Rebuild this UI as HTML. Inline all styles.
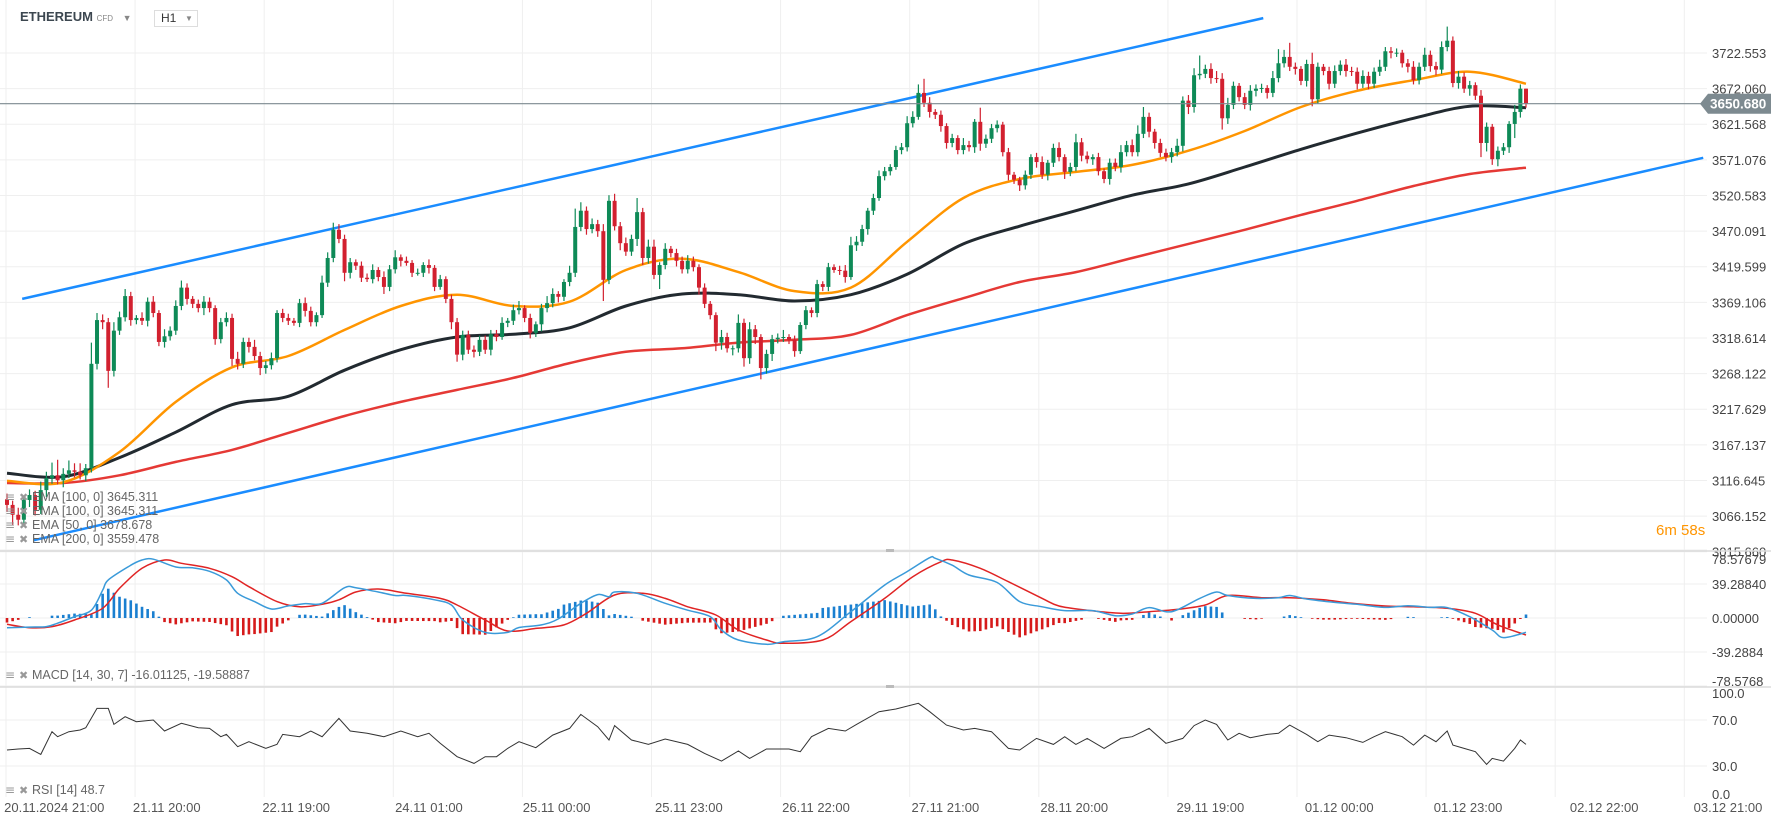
<!DOCTYPE html>
<html><head><meta charset="utf-8"><title>ETHEREUM H1</title>
<style>
html,body{margin:0;padding:0;background:#fff;width:1771px;height:825px;overflow:hidden;font-family:"Liberation Sans",sans-serif;}
#chart{position:absolute;left:0;top:0;}
.hdr{position:absolute;font-family:"Liberation Sans",sans-serif;}
</style></head>
<body>
<svg id="chart" width="1771" height="825" xmlns="http://www.w3.org/2000/svg">
  <defs><clipPath id="mainClip"><rect x="0" y="0" width="1705" height="551"/></clipPath></defs>
  <g id="grid"></g>
  <g id="main" clip-path="url(#mainClip)"></g>
  <g id="macd"></g>
  <g id="rsi"></g>
  <g id="axes"></g>
  <g id="legend"></g>
</svg>
<div class="hdr" style="left:20px;top:9px;font-size:13px;font-weight:bold;color:#3c4750;">ETHEREUM <span style="font-size:8px;font-weight:normal;color:#888;">CFD</span> <span style="font-size:9px;color:#888;margin-left:6px;">&#9660;</span></div>
<div class="hdr" style="left:154px;top:10px;width:42px;height:15px;border:1px solid #ddd;font-size:12px;color:#333;line-height:15px;"><span style="margin-left:6px;">H1</span><span style="font-size:8px;color:#888;position:absolute;left:30px;top:0;">&#9660;</span></div>
<div class="hdr" style="left:1656px;top:522px;font-size:15px;color:#ff9500;">6m 58s</div>

<script>
// ---- price data (H1 candles) ----
const closes = [
3082,3068,3061,3089,3096,3075,3103,3120,3124,3117,3126,3131,3129,3124,3134,
3282,3344,3341,3272,3329,3348,3378,3344,3347,3343,3370,3354,3313,3321,3329,3364,3390,3374,3367,3361,3370,3361,3317,3341,3347,3289,3282,3313,3306,3293,3276,3280,3290,
3354,3347,3343,3340,3368,3357,3341,3351,3397,3432,3472,3459,3411,
3426,3421,3404,3402,3415,3405,3391,3416,3433,3428,3425,3411,3411,3422,3418,3391,3402,3374,3341,3295,3323,3302,3299,3316,3302,3324,3320,3340,3343,3358,3361,3347,3326,3338,3361,3368,3381,3377,3398,3411,3476,3499,3473,3480,3470,3401,3513,3477,3453,3441,3459,3497,3432,3448,3408,3422,3445,3439,3428,3416,3428,3419,3390,
3367,3351,3312,3320,3304,3304,3340,3290,3331,3320,3276,3296,3317,3319,3320,3316,3300,3337,3358,3354,3395,3391,
3419,3415,3414,3405,3450,3455,3473,3499,3517,3548,3555,3561,3585,3589,3623,3632,3666,3652,3639,3635,3619,3595,3602,3585,3592,3589,3625,3594,3601,3616,3621,3582,3550,3543,3535,3550,
3575,3568,3550,3567,3588,3575,3554,3561,3596,3577,3572,3575,3555,3544,3567,3561,3582,3592,3582,3608,3632,3611,3595,3581,3575,3582,3591,3655,3646,3691,3693,3700,3687,3686,3630,3649,3676,3660,3649,3669,3672,3673,3666,3687,3708,3717,
3703,3700,3683,3707,3657,3703,3697,3679,3697,3706,3697,3696,3679,3690,3679,3696,3703,3725,3723,3723,3708,3703,3684,3703,3720,3704,3699,3731,3740,3680,3689,3672,3677,3662,3595,3618,3572,3584,3589,3622,3639,3672,3651];
const firstOpen = 3090;
const upperWicks = [
8,6,10,5,8,6,12,9,18,22,8,14,10,12,6,
30,10,8,6,12,8,10,6,4,8,6,8,4,10,6,8,10,6,4,6,8,6,4,6,8,6,10,6,6,10,6,6,8,
4,6,6,4,6,8,6,4,10,8,10,8,6,
6,4,6,6,8,4,8,6,10,4,6,4,6,4,8,4,6,4,6,6,6,6,6,6,6,6,6,8,4,8,10,4,6,4,6,10,8,4,4,10,26,12,6,8,6,10,8,10,6,8,6,20,6,10,10,4,8,4,6,6,8,6,4,
6,4,4,10,6,4,12,6,10,6,4,6,6,6,10,4,6,4,6,4,6,4,
6,4,6,8,12,8,6,4,6,8,6,4,6,6,10,8,12,20,8,4,6,4,6,4,10,6,4,20,6,6,6,4,6,4,4,6,
4,6,8,4,6,8,4,6,12,6,6,4,6,4,6,6,10,6,8,12,14,6,4,6,6,6,10,6,8,10,26,6,8,10,8,10,6,4,6,8,6,6,4,10,20,10,
20,6,4,6,16,6,4,6,8,6,8,6,6,8,6,6,10,6,6,6,4,6,8,6,10,6,6,8,20,6,8,6,6,4,8,6,4,6,6,4,10,6,0];
const lowerWicks = [
10,14,8,6,10,8,6,10,8,6,10,6,8,6,8,
6,8,10,24,8,6,6,8,6,6,8,6,6,8,6,6,6,8,6,6,10,6,8,6,6,10,8,6,8,6,10,8,6,
6,6,6,4,6,8,6,6,4,6,6,6,12,
8,6,6,4,6,6,10,6,6,8,4,6,4,6,8,6,4,6,10,10,8,6,8,6,6,8,6,4,6,6,6,6,8,6,10,6,6,8,6,6,6,6,8,6,8,30,6,6,10,6,6,10,10,8,6,20,6,6,8,6,6,6,10,
6,6,12,10,6,10,6,12,8,10,16,8,10,6,6,6,8,4,6,6,6,6,
6,4,6,8,4,8,6,8,6,4,6,6,4,6,6,6,4,6,8,6,8,8,6,6,6,6,8,10,6,6,6,6,8,6,8,6,
6,8,6,8,6,6,10,6,6,8,6,8,6,6,8,6,8,6,6,6,6,8,8,6,6,8,6,8,10,8,6,6,8,6,16,8,6,6,6,8,8,6,8,6,6,6,
6,8,6,8,10,6,6,8,6,6,8,6,8,6,8,6,6,6,8,6,6,8,6,6,6,8,8,6,6,6,8,6,10,6,20,12,8,10,6,8,20,8,6];
// EMAs sampled every 10 candles
const emaIdx = [0,10,20,30,40,50,60,70,80,90,100,110,120,130,140,150,160,170,180,190,200,210,220,230,240,250,260,270];
const ema50 = [3116,3114,3157,3228,3277,3293,3330,3364,3380,3364,3370,3415,3431,3412,3385,3390,3455,3517,3544,3554,3564,3584,3612,3646,3669,3684,3696,3679];
const ema100 = [3127,3122,3149,3185,3224,3236,3273,3302,3320,3324,3333,3364,3381,3380,3371,3380,3409,3452,3477,3499,3521,3537,3561,3586,3609,3630,3647,3645];
const ema200 = [3113,3113,3124,3143,3160,3184,3208,3228,3245,3262,3283,3299,3304,3312,3316,3323,3351,3375,3398,3412,3432,3452,3472,3493,3513,3534,3551,3560];
// channel trendlines [idx, price]
const upperChannel = [[2.7,3374],[223.3,3772]];
const lowerChannel = [[4.8,3032],[301.5,3574]];
const lastPrice = 3650.680;
// MACD
const macdIdx = [0,4,7,9,12,15,17,18,22,24,26,30,33,36,39,41,44,47,50,53,56,60,62,66,69,71,76,79,81,85,89,91,95,98,102,105,107,108,112,117,121,125,127,130,135,138,
144,150,156,160,164,165,168,171,176,180,184,188,193,197,200,203,207,212,215,217,222,226,228,231,236,240,245,249,253,256,260,264,266,270];
const macdVal = [-11.2,-10.5,-10,-6,1.5,9,32,44,61,67,68,59,58,54,44,28.5,19,10.4,14,16.6,17,35,35,30,26,26,21,15,-2.3,-16.6,-16.6,-11,-8,-1,17,27,24.6,30,28.5,17,9,1.5,-13.9,-25.4,-30.4,-27.4,
-21.6,7.3,38,53.6,69.7,69,61,49.7,41,19,13,8.5,8.5,2.7,4.6,12,7.3,22.7,30,26,22.7,23.5,26,22,18,15.8,12.3,14.2,12.3,12,1.5,-13.9,-22.7,-16.6];
const sigIdx = [0,4,8,12,17,20,24,28,31,36,40,43,48,52,56,59,62,66,71,77,80,85,89,94,99,103,108,113,117,121,126,130,135,138,
145,150,156,161,166,168,173,178,184,187,192,198,203,208,213,217,223,228,234,239,245,250,256,261,265,270];
const sigVal = [-7.3,-11.2,-10,-2.3,11.2,34.3,57.4,67,63.2,57.4,47.8,36.2,19,13,15.8,21,30,33.5,28.5,22.7,15,-2.3,-15,-12,-8,5.4,26.6,28.5,22.7,13,3.5,-13.9,-25.4,-29.3,
-25.4,-4.2,22.7,47.8,65,67,57.4,42,22.7,13.9,9,5.4,7.3,10,15,26,23.5,23.5,21,17,13.9,13,11.2,5.4,-8,-19.6];
// RSI
const rsiIdx = [0,2,4,6,8,9,11,13,14,16,18,19,21,23,26,28,31,34,36,38,39,41,43,46,48,49,52,54,56,59,61,64,67,70,73,75,77,80,83,85,87,89,91,94,97,100,102,105,107,108,111,114,117,121,124,127,130,132,135,139,141,143,146,149,151,155,158,162,164,167,170,172,175,178,180,183,186,188,190,192,195,198,200,203,206,209,211,213,215,217,219,221,224,226,228,231,233,235,238,241,243,245,248,250,252,254,256,257,259,261,263,264,266,268,269,270];
const rsiVal = [43.9,44.8,45.3,40.1,59.8,55.5,59.8,61.3,63.3,80.1,80.1,66.2,72.9,68.5,70,60.4,67.1,63.3,62.7,55.5,57.5,46.8,51.1,45.3,48.8,57.5,55.5,60.4,55.5,71.4,60.4,58.4,55.5,60.4,55.5,58.4,49.7,38.1,32.3,38.1,38.1,45.3,51.1,45.9,56.9,62.7,74.9,64.2,52.6,65.1,52.6,48.8,53.5,48.8,41,34.3,43,36.6,44.8,44.8,42.4,55.5,62.7,60.4,66.2,77.2,79.6,84.5,77.2,65.6,61.3,62.7,59.8,45.3,43.9,54,48.8,55.5,48.8,54,45.3,54,55.5,62.7,49.7,54,65.1,70,66.2,52.6,58.4,54.6,57.5,58.4,65.6,57.5,51.1,56.9,54.6,50.5,55.5,59.8,55.5,48.2,56.9,51.1,60.4,48.2,45.3,42.4,31.4,36.6,34.3,45.3,52.6,48.8];
// ticks
const priceTicks = ["3722.553","3672.060","3621.568","3571.076","3520.583","3470.091","3419.599","3369.106","3318.614","3268.122","3217.629","3167.137","3116.645","3066.152","3015.660"];
const macdTicks = [["78.57679",78.57679],["39.28840",39.2884],["0.00000",0],["-39.2884",-39.2884],["-78.5768",-78.5768]];
const rsiTicks = [["100.0",100],["70.0",70],["30.0",30],["0.0",0]];
const timeLabels = ["20.11.2024  21:00","21.11  20:00","22.11  19:00","24.11  01:00","25.11  00:00","25.11  23:00","26.11  22:00","27.11  21:00","28.11  20:00","29.11  19:00","01.12  00:00","01.12  23:00","02.12  22:00","03.12  21:00"];
const timeLabelIdx = [8.4,28.4,51.4,75,97.7,121.2,143.8,166.8,189.7,213.9,236.8,259.7,283.9,305.9];
const ema50Label = "EMA [50, 0] 3678.678", ema100Label = "EMA [100, 0] 3645.311", ema200Label = "EMA [200, 0] 3559.478";

// ---- scales ----
const NS="http://www.w3.org/2000/svg";
const N = closes.length;
const X0 = 7, X1 = 1526;
const DX = (X1 - X0) / (N - 1);
function xS(i){ return X0 + i*DX; }
function yP(p){ return 53 + (3722.553 - p)*0.7055; }
function yM(v){ return 618 - v*0.865; }
function yR(v){ return 766 - (v - 30)*1.15; }
function mk(tag, attrs, parent){ const e=document.createElementNS(NS,tag); for(const k in attrs) e.setAttribute(k,attrs[k]); parent.appendChild(e); return e; }
function interp(idx, val, i){
  if(i<=idx[0]) return val[0];
  for(let k=1;k<idx.length;k++){ if(i<=idx[k]){ const t=(i-idx[k-1])/(idx[k]-idx[k-1]); return val[k-1]+t*(val[k]-val[k-1]); } }
  return val[val.length-1];
}
function smoothPath(pts){
  let d="M"+pts[0][0].toFixed(1)+","+pts[0][1].toFixed(1);
  for(let i=0;i<pts.length-1;i++){
    const p0=pts[Math.max(0,i-1)],p1=pts[i],p2=pts[i+1],p3=pts[Math.min(pts.length-1,i+2)];
    const c1x=p1[0]+(p2[0]-p0[0])/6,c1y=p1[1]+(p2[1]-p0[1])/6,c2x=p2[0]-(p3[0]-p1[0])/6,c2y=p2[1]-(p3[1]-p1[1])/6;
    d+=" C"+c1x.toFixed(1)+","+c1y.toFixed(1)+" "+c2x.toFixed(1)+","+c2y.toFixed(1)+" "+p2[0].toFixed(1)+","+p2[1].toFixed(1);
  }
  return d;
}

const grid=document.getElementById('grid'), main=document.getElementById('main'), macdG=document.getElementById('macd'), rsiG=document.getElementById('rsi'), axes=document.getElementById('axes'), legend=document.getElementById('legend');

// ---- grid ----
for(let k=0;k<14;k++){
  const gx=6+k*129.1;
  const l=mk('line',{x1:gx,y1:0,x2:gx,y2:797,stroke:'#efefef','stroke-width':1},grid);
  
  
}
priceTicks.forEach(t=>{
  const y=yP(parseFloat(t));
  const l=mk('line',{x1:0,y1:y,x2:1707,y2:y,stroke:'#efefef','stroke-width':1},grid);
  
  
  const tx=mk('text',{x:1712,y:y+5,'font-size':13,fill:'#444','font-family':'Liberation Sans, sans-serif'},axes);
  tx.textContent=t;
  
  
});
macdTicks.forEach(t=>{
  const y=yM(t[1]);
  const l=mk('line',{x1:0,y1:y,x2:1707,y2:y,stroke:'#efefef','stroke-width':1},grid);
  
  
  let ty=y+5; if(ty<564) ty=564; if(ty>686) ty=686;
  const tx=mk('text',{x:1712,y:ty,'font-size':13,fill:'#444','font-family':'Liberation Sans, sans-serif'},axes);
  tx.textContent=t[0];
  
  
});
rsiTicks.forEach(t=>{
  const y=yR(t[1]);
  if(t[1]>0&&t[1]<100){ const l=mk('line',{x1:0,y1:y,x2:1707,y2:y,stroke:'#efefef','stroke-width':1},grid);
    
     }
  let ty=y+5; if(ty<698) ty=698; if(ty>799) ty=799;
  const tx=mk('text',{x:1712,y:ty,'font-size':13,fill:'#444','font-family':'Liberation Sans, sans-serif'},axes);
  tx.textContent=t[0];
  
  
});
// pane separators
[551,687].forEach(y=>{
  const l=mk('line',{x1:0,y1:y,x2:1771,y2:y,stroke:'#dcdcdc','stroke-width':1.5},axes);
  
  
  const h=mk('rect',{x:886,y:y-2,width:8,height:3,fill:'#bbb'},axes);
  
  
});
timeLabels.forEach((t,k)=>{
  const tx=mk('text',{x:xS(timeLabelIdx[k]),y:812,'font-size':13,fill:'#555','text-anchor':'middle','font-family':'Liberation Sans, sans-serif','xml:space':'preserve'},axes);
  tx.textContent=t;
  
  
});

// ---- EMA lines ----
function emaLine(vals,color,w,name){
  const pts=emaIdx.map((i,k)=>[xS(i),yP(vals[k])]);
  const p=mk('path',{d:smoothPath(pts),fill:'none',stroke:color,'stroke-width':w,'stroke-linejoin':'round'},main);
  
  
}
emaLine(ema200,'#e53935',2.5,'ema-200-line');
emaLine(ema100,'#222a30',3,'ema-100-line');
emaLine(ema50,'#ff9500',2.5,'ema-50-line');

// ---- channel ----
[upperChannel,lowerChannel].forEach((c,k)=>{
  const l=mk('line',{x1:xS(c[0][0]),y1:yP(c[0][1]),x2:xS(c[1][0]),y2:yP(c[1][1]),stroke:'#1a8cff','stroke-width':2.5},main);
  
  
});

// ---- candles ----
for(let i=0;i<N;i++){
  const o=i===0?firstOpen:closes[i-1], c=closes[i];
  const up=c>=o, col=up?'#0e8a57':'#d2202f';
  const x=xS(i);
  const hi=Math.max(o,c)+upperWicks[i], lo=Math.min(o,c)-lowerWicks[i];
  const w=mk('line',{x1:x,y1:yP(hi),x2:x,y2:yP(lo),stroke:col,'stroke-width':1.2},main);
  
  
  const yt=yP(Math.max(o,c)), yb=yP(Math.min(o,c));
  const b=mk('rect',{x:x-2,y:yt,width:4,height:Math.max(1,yb-yt),fill:col},main);
  
  
}

// ---- last price line + tag ----
const ly=yP(lastPrice);
const pl=mk('line',{x1:0,y1:ly,x2:1702,y2:ly,stroke:'#7d8a90','stroke-width':1.2},axes);


const tag=mk('polygon',{points:`1700,${ly} 1708,${ly-10} 1771,${ly-10} 1771,${ly+10} 1708,${ly+10}`,fill:'#7d8a90'},axes);


const tt=mk('text',{x:1710,y:ly+5,'font-size':13.5,fill:'#fff','font-weight':'bold','font-family':'Liberation Sans, sans-serif'},axes);
tt.textContent=lastPrice.toFixed(3);



// ---- MACD ----
for(let i=0;i<N;i++){
  const h=(interp(macdIdx,macdVal,i)-interp(sigIdx,sigVal,i))*1.35;
  if(Math.abs(h)<0.8) continue;
  const y0=yM(0), y1=yM(h);
  const r=mk('rect',{x:xS(i)-1.3,y:Math.min(y0,y1),width:2.6,height:Math.abs(y1-y0),fill:h>0?'#1a7fd0':'#d61a1a'},macdG);
  
  
}
const sp=mk('path',{d:smoothPath(sigIdx.map((i,k)=>[xS(i),yM(sigVal[k])])),fill:'none',stroke:'#e02424','stroke-width':1.5},macdG);


const mp=mk('path',{d:smoothPath(macdIdx.map((i,k)=>[xS(i),yM(macdVal[k])])),fill:'none',stroke:'#3a9ad9','stroke-width':1.5},macdG);



// ---- RSI ----
const rp=mk('polyline',{points:rsiIdx.map((i,k)=>xS(i).toFixed(1)+","+yR(rsiVal[k]).toFixed(1)).join(" "),fill:'none',stroke:'#333','stroke-width':1},rsiG);



// ---- legends ----
function legendRow(y,label,name){
  const g=mk('g',{},legend);
  
  
  const i1=mk('text',{x:5,y:y,'font-size':12,fill:'#999','font-family':'DejaVu Sans, sans-serif'},g);
  i1.textContent='\u2261';
  const i2=mk('text',{x:19,y:y,'font-size':11,fill:'#999','font-family':'DejaVu Sans, sans-serif'},g);
  i2.textContent='\u2716';
  const t=mk('text',{x:32,y:y,'font-size':12.5,fill:'#666','font-family':'Liberation Sans, sans-serif','xml:space':'preserve'},g);
  t.textContent=label;
}
legendRow(501,ema100Label,'ema-100-legend');
legendRow(515,ema100Label,'ema-100-legend-duplicate');
legendRow(529,ema50Label,'ema-50-legend');
legendRow(543,ema200Label,'ema-200-legend');
legendRow(679,'MACD [14, 30, 7] -16.01125,  -19.58887','macd-legend');
legendRow(794,'RSI [14] 48.7','rsi-legend');
</script>
</body></html>
